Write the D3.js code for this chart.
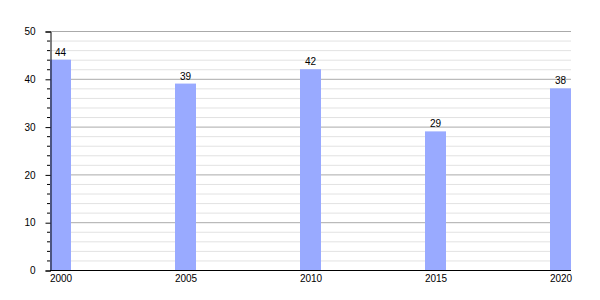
<!DOCTYPE html>
<html>
<head>
<meta charset="utf-8">
<script src="https://cdn.jsdelivr.net/npm/d3@7"></script>
<style>
  body { margin: 0; background: #fff; }
  svg { display: block; font-family: "Liberation Sans", Arial, sans-serif; }
</style>
</head>
<body>
<div class="chart"></div>
<script>
const years = [2000, 2005, 2010, 2015, 2020];
const values = [44, 39, 42, 29, 38];
const yTicks = [0, 10, 20, 30, 40, 50];
const yMinor = d3.range(0, 51, 2);

const cfg = { w: 600, h: 300, left: 50, right: 571, top: 31, bottom: 270, barW: 21 };

const svg = d3.select('.chart').append('svg')
  .attr('width', cfg.w)
  .attr('height', cfg.h);

const x = d3.scaleLinear().domain([2000, 2020]).range([cfg.left + cfg.barW / 2, cfg.right - cfg.barW / 2]);
const y = d3.scaleLinear().domain([0, 50]).range([cfg.bottom, cfg.top]);

// minor grid
svg.append('g').selectAll('line')
  .data(yMinor.filter(d => d % 10 !== 0))
  .enter().append('line')
  .attr('x1', cfg.left).attr('x2', cfg.right)
  .attr('y1', d => y(d) + 0.5).attr('y2', d => y(d) + 0.5)
  .attr('stroke', '#e2e2e2');

// major grid
svg.append('g').selectAll('line')
  .data(yTicks.filter(d => d > 0))
  .enter().append('line')
  .attr('x1', cfg.left).attr('x2', cfg.right)
  .attr('y1', d => y(d) + 0.5).attr('y2', d => y(d) + 0.5)
  .attr('stroke', '#aaaaaa');

// bars
svg.append('g').selectAll('rect')
  .data(values)
  .enter().append('rect')
  .attr('x', (d, i) => x(years[i]) - cfg.barW / 2)
  .attr('y', d => y(d))
  .attr('width', cfg.barW)
  .attr('height', d => y(0) - y(d))
  .attr('fill', '#99aaff');

// value labels
svg.append('g').selectAll('text')
  .data(values)
  .enter().append('text')
  .attr('x', (d, i) => x(years[i]))
  .attr('y', d => y(d) - 4)
  .attr('text-anchor', 'middle')
  .attr('font-size', 10)
  .attr('fill', '#000')
  .text(d => d);

// y axis minor ticks
svg.append('g').selectAll('line')
  .data(yMinor.filter(d => d % 10 !== 0))
  .enter().append('line')
  .attr('x1', cfg.left - 3).attr('x2', cfg.left)
  .attr('y1', d => y(d) + 0.5).attr('y2', d => y(d) + 0.5)
  .attr('stroke', '#000');

// y axis
const yAxis = d3.axisLeft(y).tickValues(yTicks).tickSize(5).tickPadding(10);
const gy = svg.append('g')
  .attr('transform', `translate(${cfg.left + 0.5},0.5)`)
  .call(yAxis);
gy.selectAll('text').attr('font-size', 10).attr('font-family', '"Liberation Sans", Arial, sans-serif');

// x axis
const xAxis = d3.axisBottom(x).tickValues(years).tickSize(0).tickPadding(4).tickFormat(d3.format('d'));
const gx = svg.append('g')
  .attr('transform', `translate(0,${cfg.bottom + 0.5})`)
  .call(xAxis);
gx.select('.domain').attr('d', `M${cfg.left},0H${cfg.right}`);
gx.selectAll('text').attr('font-size', 10).attr('font-family', '"Liberation Sans", Arial, sans-serif');
</script>
</body>
</html>
